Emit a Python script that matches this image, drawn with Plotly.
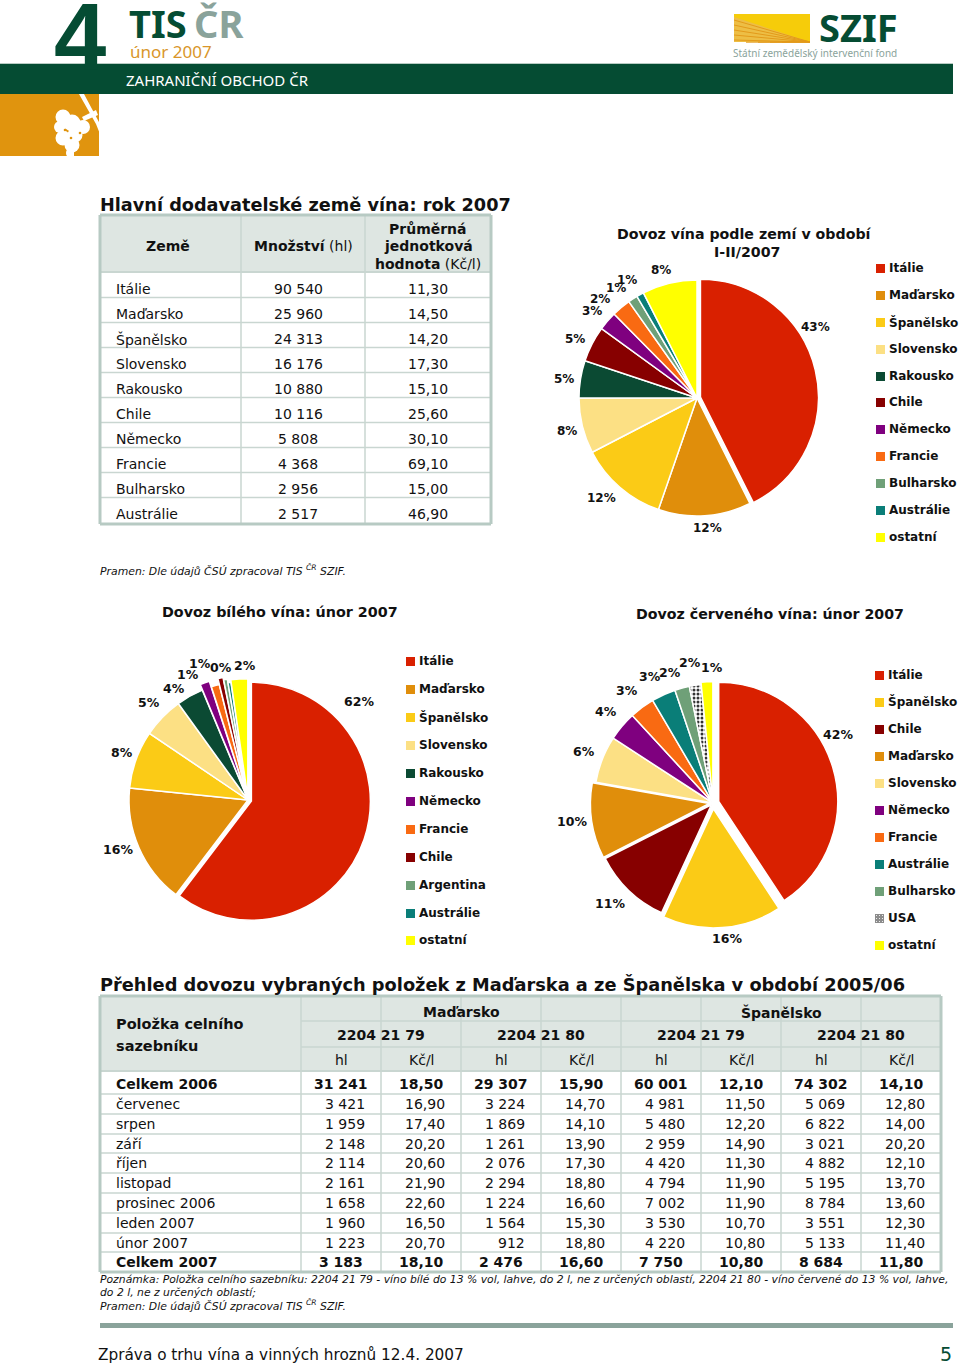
import plotly.graph_objects as go

W, H = 960, 1365
FONT = "DejaVu Sans"
NARROW = "Liberation Sans Narrow, Noto Sans"

# ---------- data ----------
c_italie, c_madarsko, c_spanelsko, c_slovensko = "#D92000", "#E08E0B", "#FBCB16", "#FCE084"
c_rakousko, c_chile, c_nemecko, c_francie = "#0B4A33", "#870000", "#7F007F", "#F96A12"
c_bulharsko, c_australie, c_ostatni = "#6FA078", "#0A7E78", "#FFFF00"
c_usa, c_argentina = "#B8B8B8", "#6FA078"

pie1_names = ["Itálie", "Maďarsko", "Španělsko", "Slovensko", "Rakousko", "Chile", "Německo", "Francie", "Bulharsko", "Austrálie", "ostatní"]
pie1_values = [42.6, 12.7, 12.1, 7.6, 5.1, 4.9, 2.6, 2.6, 1.3, 1.0, 7.5]
pie1_colors = [c_italie, c_madarsko, c_spanelsko, c_slovensko, c_rakousko, c_chile, c_nemecko, c_francie, c_bulharsko, c_australie, c_ostatni]
pie1_pull = [0.03, 0, 0, 0, 0, 0, 0, 0, 0, 0, 0]
pie1_labels = ["43%", "12%", "12%", "8%", "5%", "5%", "3%", "2%", "1%", "1%", "8%"]

pie2_names = ["Itálie", "Maďarsko", "Španělsko", "Slovensko", "Rakousko", "Německo", "Francie", "Chile", "Argentina", "Austrálie", "ostatní"]
pie2_values = [60.6, 16.3, 7.9, 5.6, 3.7, 1.3, 1.1, 0.7, 0.5, 0.4, 2.3]
pie2_colors = [c_italie, c_madarsko, c_spanelsko, c_slovensko, c_rakousko, c_nemecko, c_francie, c_chile, c_argentina, c_australie, c_ostatni]
pie2_pull = [0.03, 0, 0, 0, 0, 0.05, 0, 0.05, 0.03, 0, 0.02]
pie2_labels = ["62%", "16%", "8%", "5%", "4%", "1%", "1%", "0%", "2%"]

pie3_names = ["Itálie", "Španělsko", "Chile", "Maďarsko", "Slovensko", "Německo", "Francie", "Austrálie", "Bulharsko", "USA", "ostatní"]
pie3_values = [40.9, 16.2, 10.7, 10.3, 6.4, 4.0, 3.4, 3.3, 2.0, 1.6, 1.6]
pie3_colors = [c_italie, c_spanelsko, c_chile, c_madarsko, c_slovensko, c_nemecko, c_francie, c_australie, c_bulharsko, c_usa, c_ostatni]
pie3_pull = [0.05, 0.05, 0.02, 0.03, 0, 0, 0, 0, 0, 0, 0.02]
pie3_labels = ["42%", "16%", "11%", "10%", "6%", "4%", "3%", "3%", "2%", "2%", "1%"]

t1_names = ["Itálie", "Maďarsko", "Španělsko", "Slovensko", "Rakousko", "Chile", "Německo", "Francie", "Bulharsko", "Austrálie"]
t1_qty = ["90 540", "25 960", "24 313", "16 176", "10 880", "10 116", "5 808", "4 368", "2 956", "2 517"]
t1_price = ["11,30", "14,50", "14,20", "17,30", "15,10", "25,60", "30,10", "69,10", "15,00", "46,90"]

t2_rows = ["Celkem 2006", "červenec", "srpen", "září", "říjen", "listopad", "prosinec 2006", "leden 2007", "únor 2007", "Celkem 2007"]
t2_hu79_hl = ["31 241", "3 421", "1 959", "2 148", "2 114", "2 161", "1 658", "1 960", "1 223", "3 183"]
t2_hu79_kc = ["18,50", "16,90", "17,40", "20,20", "20,60", "21,90", "22,60", "16,50", "20,70", "18,10"]
t2_hu80_hl = ["29 307", "3 224", "1 869", "1 261", "2 076", "2 294", "1 224", "1 564", "912", "2 476"]
t2_hu80_kc = ["15,90", "14,70", "14,10", "13,90", "17,30", "18,80", "16,60", "15,30", "18,80", "16,60"]
t2_es79_hl = ["60 001", "4 981", "5 480", "2 959", "4 420", "4 794", "7 002", "3 530", "4 220", "7 750"]
t2_es79_kc = ["12,10", "11,50", "12,20", "14,90", "11,30", "11,90", "11,90", "10,70", "10,80", "10,80"]
t2_es80_hl = ["74 302", "5 069", "6 822", "3 021", "4 882", "5 195", "8 784", "3 551", "5 133", "8 684"]
t2_es80_kc = ["14,10", "12,80", "14,00", "20,20", "12,10", "13,70", "13,60", "12,30", "11,40", "11,80"]

# ---------- helpers ----------
def px(x): return x / W
def py(y): return 1 - y / H

shapes, annots = [], []

def rect(x0, y0, x1, y1, fill, layer="below"):
    shapes.append(dict(type="rect", xref="paper", yref="paper", x0=px(x0), x1=px(x1), y0=py(y1), y1=py(y0),
                       fillcolor=fill, line=dict(width=0), layer=layer))

def line(x0, y0, x1, y1, color, width=1, layer="below"):
    shapes.append(dict(type="line", xref="paper", yref="paper", x0=px(x0), x1=px(x1), y0=py(y0), y1=py(y1),
                       line=dict(color=color, width=width), layer=layer))

def circle(cx, cy, r, fill):
    shapes.append(dict(type="circle", xref="paper", yref="paper", x0=px(cx - r), x1=px(cx + r), y0=py(cy + r), y1=py(cy - r),
                       fillcolor=fill, line=dict(width=0), layer="above"))

def poly(points, fill):
    d = "M" + " L".join(f"{px(x):.5f},{py(y):.5f}" for x, y in points) + " Z"
    shapes.append(dict(type="path", xref="paper", yref="paper", path=d, fillcolor=fill, line=dict(width=0), layer="above"))

def text(x, y, s, size=14, color="#111111", anchor="left", bold=False, italic=False, font=FONT):
    if bold: s = f"<b>{s}</b>"
    if italic: s = f"<i>{s}</i>"
    if anchor == "left": x -= 1
    annots.append(dict(x=px(x), y=py(y), xref="paper", yref="paper", text=s, showarrow=False,
                       xanchor=anchor, yanchor="middle", align=anchor, borderpad=0,
                       font=dict(family=font, size=size, color=color)))

def pie(names, values, colors, pull, cx, cy, r, pattern=None):
    h = r * (1 + max(pull))
    marker = dict(colors=colors, line=dict(color="white", width=1.5))
    if pattern: marker["pattern"] = pattern
    return go.Pie(labels=names, values=values, marker=marker, pull=pull, sort=False, direction="clockwise",
                  rotation=0, textinfo="none", hoverinfo="skip", showlegend=False,
                  domain=dict(x=[px(cx - h), px(cx + h)], y=[py(cy + h), py(cy - h)]))

def legend(names, colors, x, ys):
    for n, c, y in zip(names, colors, ys):
        rect(x, y - 4, x + 9, y + 5, c)
        if n == "USA":
            rect(x, y - 4, x + 9, y + 5, "#8C8C8C")
            for i in range(3):
                for j in range(3):
                    rect(x + 1 + 3 * i, y - 3 + 3 * j, x + 2 + 3 * i, y - 2 + 3 * j, "#EDEDED")
        text(x + 13, y, n, size=12, bold=True)

# ---------- header ----------
GREEN, SAGE, ORANGE = "#054C33", "#8AA39B", "#E0940E"
rect(0, 64, 953, 94, GREEN)
line(0, 63.5, 953, 63.5, "#B9CCC4", 1)
rect(0, 94, 99, 156, ORANGE)
text(80, 36, "4", size=94, color=GREEN, anchor="center", bold=True, font="Liberation Sans")
text(129, 23, "TIS", size=38, color=GREEN, bold=True, font=NARROW)
text(194, 23, "ČR", size=38, color=SAGE, bold=True, font=NARROW)
text(130, 52, "únor 2007", size=17, color="#D9962A", font="Noto Sans")
text(126, 80, "ZAHRANIČNÍ OBCHOD ČR", size=15, color="white", font="Noto Sans")
# logo
rect(734, 14, 810, 42, "#F6CC0A")
poly([(734, 17), (734, 42), (810, 42)], "#EDBE45")
for yy in [20, 25, 30, 35, 40]:
    line(810, 42, 734, yy, "#E39A1A", 1, layer="above")
for xx in [746, 758, 770, 782]:
    line(810, 42, xx, 42.2, "#E39A1A", 1, layer="above")
text(819, 27, "SZIF", size=38, color=GREEN, bold=True, font=NARROW)
text(733, 53, "Státní zemědělský intervenční fond", size=10, color="#8AA39B", font=NARROW)
# grape motif
poly([(79, 94), (84, 94), (100, 124), (100, 134), (96, 124)], "white")
poly([(96, 110), (98, 115), (84, 121), (82, 117)], "white")
for cx_, cy_, r_ in [(63, 117, 7.5), (60, 127, 6), (72, 123, 8.5), (83, 127, 7), (63, 138, 7.5),
                     (75, 135, 7.5), (72, 145, 7.5), (70, 153, 4)]:
    circle(cx_, cy_, r_, "white")
poly([(67, 151), (74, 151), (74, 156), (67, 156)], "white")
for cx_, cy_ in [(65, 130), (80, 133), (71, 138)]:
    circle(cx_, cy_, 1.3, ORANGE)

# ---------- titles ----------
text(100, 205, "Hlavní dodavatelské země vína: rok 2007", size=17.7, bold=True)
text(744.5, 234, "Dovoz vína podle zemí v období", size=14.2, anchor="center", bold=True)
text(747, 252, "I-II/2007", size=14.2, anchor="center", bold=True)
text(100, 570, "Pramen: Dle údajů ČSÚ zpracoval TIS <sup>ČR</sup> SZIF.", size=10.85, italic=True)
text(162, 612, "Dovoz bílého vína: únor 2007", size=14.3, bold=True)
text(636, 614, "Dovoz červeného vína: únor 2007", size=14.2, bold=True)
text(100, 984, "Přehled dovozu vybraných položek z Maďarska a ze Španělska v období 2005/06", size=17.8, bold=True)
text(100, 1279, "Poznámka: Položka celního sazebníku: 2204 21 79 - víno bílé do 13 % vol, lahve, do 2 l, ne z určených oblastí, 2204 21 80 - víno červené do 13 % vol, lahve,", size=10.8, italic=True)
text(100, 1292, "do 2 l, ne z určených oblastí;", size=10.8, italic=True)
text(100, 1305, "Pramen: Dle údajů ČSÚ zpracoval TIS <sup>ČR</sup> SZIF.", size=10.85, italic=True)
rect(100, 1323, 953, 1328, SAGE)
text(98, 1355, "Zpráva o trhu vína a vinných hroznů 12.4. 2007", size=15.3)
text(946, 1354, "5", size=19, color="#054C33", anchor="center")

# ---------- table 1 ----------
HEAD, BORDER, GRID = "#DEE6E2", "#B7CAC3", "#C9D6D1"
rect(100, 215, 491, 272, HEAD)
for i in range(10):
    y = 289 + 25 * i
    text(116, y, t1_names[i], size=14)
    text(298, y, t1_qty[i], size=14, anchor="center")
    text(427.5, y, t1_price[i], size=14, anchor="center")
    if i < 9:
        line(100, 297.5 + 25 * i, 491, 297.5 + 25 * i, GRID, 1.5)
for x in [241, 365]:
    line(x, 215, x, 524, GRID, 1.5)
line(100, 272, 491, 272, GRID, 2)
for a in [(100, 215, 491, 215), (100, 524, 491, 524), (100, 215, 100, 524), (491, 215, 491, 524)]:
    line(*a, BORDER, 3)
text(168, 246, "Země", size=14, anchor="center", bold=True)
text(303, 246, "<b>Množství</b> (hl)", size=14, anchor="center")
text(428, 229, "Průměrná", size=14, anchor="center", bold=True)
text(428, 246, "jednotková", size=14, anchor="center", bold=True)
text(428, 264, "<b>hodnota</b> (Kč/l)", size=14, anchor="center")

# ---------- table 2 ----------
rect(100, 996, 941, 1071, HEAD)
t2_cols = [t2_hu79_hl, t2_hu79_kc, t2_hu80_hl, t2_hu80_kc, t2_es79_hl, t2_es79_kc, t2_es80_hl, t2_es80_kc]
t2_x = [301, 381, 461, 541, 621, 701, 781, 861, 941]
t2_y = [1084, 1104, 1124, 1144, 1163, 1183, 1203, 1223, 1243, 1262]
t2_lines = [1094, 1114, 1134, 1153, 1173, 1193, 1213, 1233, 1252]
for i, y in enumerate(t2_y):
    b = i in (0, 9)
    text(116, y, t2_rows[i], size=14, bold=b)
    for j, col in enumerate(t2_cols):
        if b:
            text((t2_x[j] + t2_x[j + 1]) / 2, y, col[i], size=14, anchor="center", bold=True)
        else:
            text(t2_x[j + 1] - 15.5, y, col[i], size=14, anchor="right")
for y in t2_lines:
    line(100, y, 941, y, GRID, 1.5)
for x in t2_x:
    line(x, 996, x, 1272, GRID, 1.5)
line(301, 1021, 941, 1021, GRID, 1.5)
line(301, 1047, 941, 1047, GRID, 1.5)
line(100, 1071, 941, 1071, GRID, 2)
for a in [(100, 996, 941, 996), (100, 1272, 941, 1272), (100, 996, 100, 1272), (941, 996, 941, 1272)]:
    line(*a, BORDER, 3)
text(116, 1024, "Položka celního", size=14.5, bold=True)
text(116, 1046, "sazebníku", size=14.5, bold=True)
text(461, 1012, "Maďarsko", size=14, anchor="center", bold=True)
text(781, 1012, "Španělsko", size=14, anchor="center", bold=True)
for x, s in zip([381, 541, 701, 861], ["2204 21 79", "2204 21 80", "2204 21 79", "2204 21 80"]):
    text(x, 1035, s, size=14, anchor="center", bold=True)
for j in range(8):
    text((t2_x[j] + t2_x[j + 1]) / 2, 1060, "hl" if j % 2 == 0 else "Kč/l", size=14, anchor="center")

# ---------- pies ----------
traces = [
    pie(pie1_names, pie1_values, pie1_colors, pie1_pull, 697, 398, 118),
    pie(pie2_names, pie2_values, pie2_colors, pie2_pull, 248, 800, 119),
    pie(pie3_names, pie3_values, pie3_colors, pie3_pull, 713, 803, 119,
        pattern=dict(shape=[""] * 9 + ["."] + [""], fgcolor="#333333", size=4, solidity=0.45)),
]
for s, (x, y) in zip(pie1_labels, [(815, 327), (707, 528), (601, 498), (567, 431), (564, 379), (575, 339), (592, 311), (600, 299), (616, 288), (627, 280), (661, 270)]):
    text(x, y, s, size=12, anchor="center", bold=True)
for s, (x, y) in zip(pie2_labels, [(359, 702), (118, 849), (122, 752), (149, 703), (174, 688), (188, 674), (200, 663), (221, 667), (245, 665)]):
    text(x, y, s, size=12.5, anchor="center", bold=True)
for s, (x, y) in zip(pie3_labels, [(838, 734), (727, 938), (610, 903), (572, 821), (584, 751), (606, 711), (627, 690), (650, 676), (670, 672), (690, 662), (712, 667)]):
    text(x, y, s, size=12.5, anchor="center", bold=True)

legend(pie1_names, pie1_colors, 876, [268, 295, 322, 349, 376, 402, 429, 456, 483, 510, 537])
legend(pie2_names, pie2_colors, 406, [661, 689, 717, 745, 773, 801, 829, 857, 885, 913, 940])
legend(pie3_names, pie3_colors, 875, [675, 702, 729, 756, 783, 810, 837, 864, 891, 918, 945])

fig = go.Figure(traces)
fig.update_layout(width=W, height=H, margin=dict(l=0, r=0, t=0, b=0), paper_bgcolor="white", plot_bgcolor="white",
                  showlegend=False, shapes=shapes, annotations=annots, font=dict(family=FONT))
fig.write_html("out.html", config=dict(displayModeBar=False),
               post_script="document.body.style.margin='0';document.documentElement.style.overflow='hidden';")
